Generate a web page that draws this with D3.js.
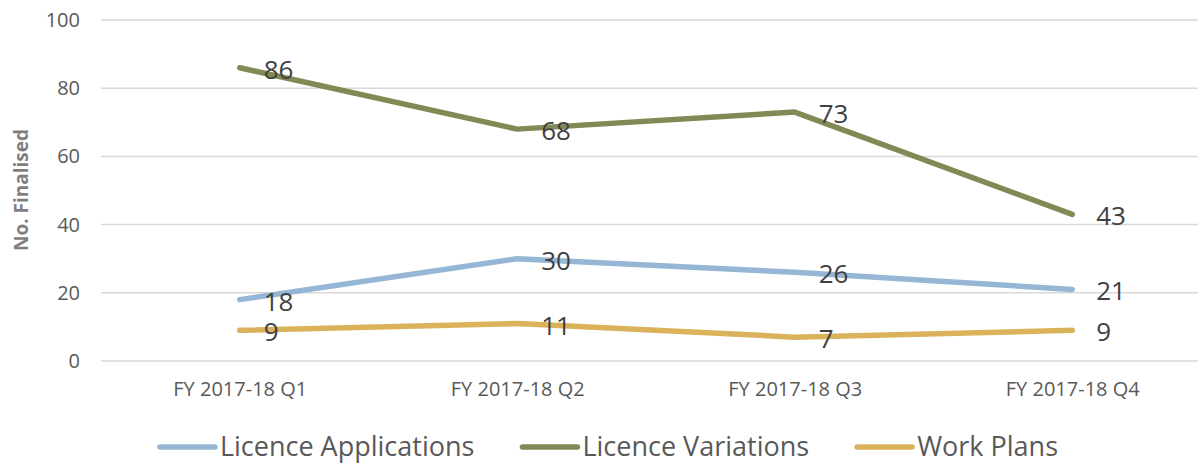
<!DOCTYPE html>
<html>
<head>
<meta charset="utf-8">
<script src="https://cdn.jsdelivr.net/npm/d3@7"></script>
<style>
  body { margin: 0; background: #fff; }
  text { font-family: "Open Sans", "Noto Sans", sans-serif; }
</style>
</head>
<body>
<div id="chart"></div>
<script>
const w = 1198;
const h = 465;

// data
const quarters = ["FY 2017-18 Q1", "FY 2017-18 Q2", "FY 2017-18 Q3", "FY 2017-18 Q4"];
const licenceApplications = [18, 30, 26, 21];
const licenceVariations = [86, 68, 73, 43];
const workPlans = [9, 11, 7, 9];
const yTicks = [0, 20, 40, 60, 80, 100];

const series = [
	{ name: "Licence Applications", values: licenceApplications, color: "#95b6d4" },
	{ name: "Licence Variations", values: licenceVariations, color: "#7f8a55" },
	{ name: "Work Plans", values: workPlans, color: "#dbb25c" }
];

let svg = d3.select('#chart')
	.append('svg')
		.attr('width', w)
		.attr('height', h);

let xScale = d3.scalePoint()
	.domain(quarters)
	.range([101, 1211])
	.padding(0.5);

let yScale = d3.scaleLinear()
	.domain([0, 100])
	.range([361, 20]);

// gridlines
svg.append("g")
	.selectAll("line")
	.data(yTicks)
	.enter()
	.append("line")
	.attr("x1", 101)
	.attr("x2", w)
	.attr("y1", (d) => yScale(d))
	.attr("y2", (d) => yScale(d))
	.attr("stroke", "#d9d9d9")
	.attr("stroke-width", 1.5);

// y axis labels
let yAxis = svg.append("g")
	.attr("transform", "translate(80,0)")
	.call(d3.axisLeft(yScale).tickValues(yTicks).tickSize(0).tickPadding(0));
yAxis.select(".domain").remove();
yAxis.selectAll("text")
	.attr("fill", "#595959")
	.style("font-size", "20px")
	.style("font-family", "'Open Sans', sans-serif");

// x axis labels
let xAxis = svg.append("g")
	.attr("transform", "translate(0,381)")
	.call(d3.axisBottom(xScale).tickSize(0).tickPadding(0));
xAxis.select(".domain").remove();
xAxis.selectAll("text")
	.attr("fill", "#595959")
	.attr("dy", "0.75em")
	.style("font-size", "20px")
	.style("font-family", "'Open Sans', sans-serif");

// y title
svg.append("text")
	.attr("transform", "translate(21,190) rotate(-90)")
	.attr("text-anchor", "middle")
	.attr("dy", "0.35em")
	.attr("fill", "#7f7f7f")
	.style("font-size", "19px")
	.style("font-weight", "bold")
	.text("No. Finalised");

let line = d3.line()
	.x((d, i) => xScale(quarters[i]))
	.y((d) => yScale(d));

series.forEach((s) => {
	svg.append("path")
		.datum(s.values)
		.attr("d", line)
		.attr("fill", "none")
		.attr("stroke", s.color)
		.attr("stroke-width", 5.5)
		.attr("stroke-linecap", "round")
		.attr("stroke-linejoin", "round");
});

series.forEach((s) => {
	svg.append("g")
		.selectAll("text")
		.data(s.values)
		.enter()
		.append("text")
		.attr("x", (d, i) => xScale(quarters[i]) + 24)
		.attr("y", (d) => yScale(d) + 2)
		.attr("dy", "0.35em")
		.attr("fill", "#404040")
		.style("font-size", "26px")
		.text((d) => d);
});

// legend
let legend = svg.append("g");
let items = legend.selectAll("g")
	.data(series)
	.enter()
	.append("g");
items.append("line")
	.attr("x1", 0)
	.attr("x2", 55)
	.attr("stroke", (d) => d.color)
	.attr("stroke-width", 5.5)
	.attr("stroke-linecap", "round");
items.append("text")
	.attr("x", 60)
	.attr("dy", "0.35em")
	.attr("fill", "#595959")
	.style("font-size", "27px")
	.text((d) => d.name);

let widths = [];
items.each(function() { widths.push(this.getBBox().width); });
const gap = 48;
const total = d3.sum(widths) + gap * (widths.length - 1);
let xPos = 609 - total / 2;
items.attr("transform", (d, i) => {
	const t = "translate(" + xPos + ",447)";
	xPos += widths[i] + gap;
	return t;
});
</script>
</body>
</html>
